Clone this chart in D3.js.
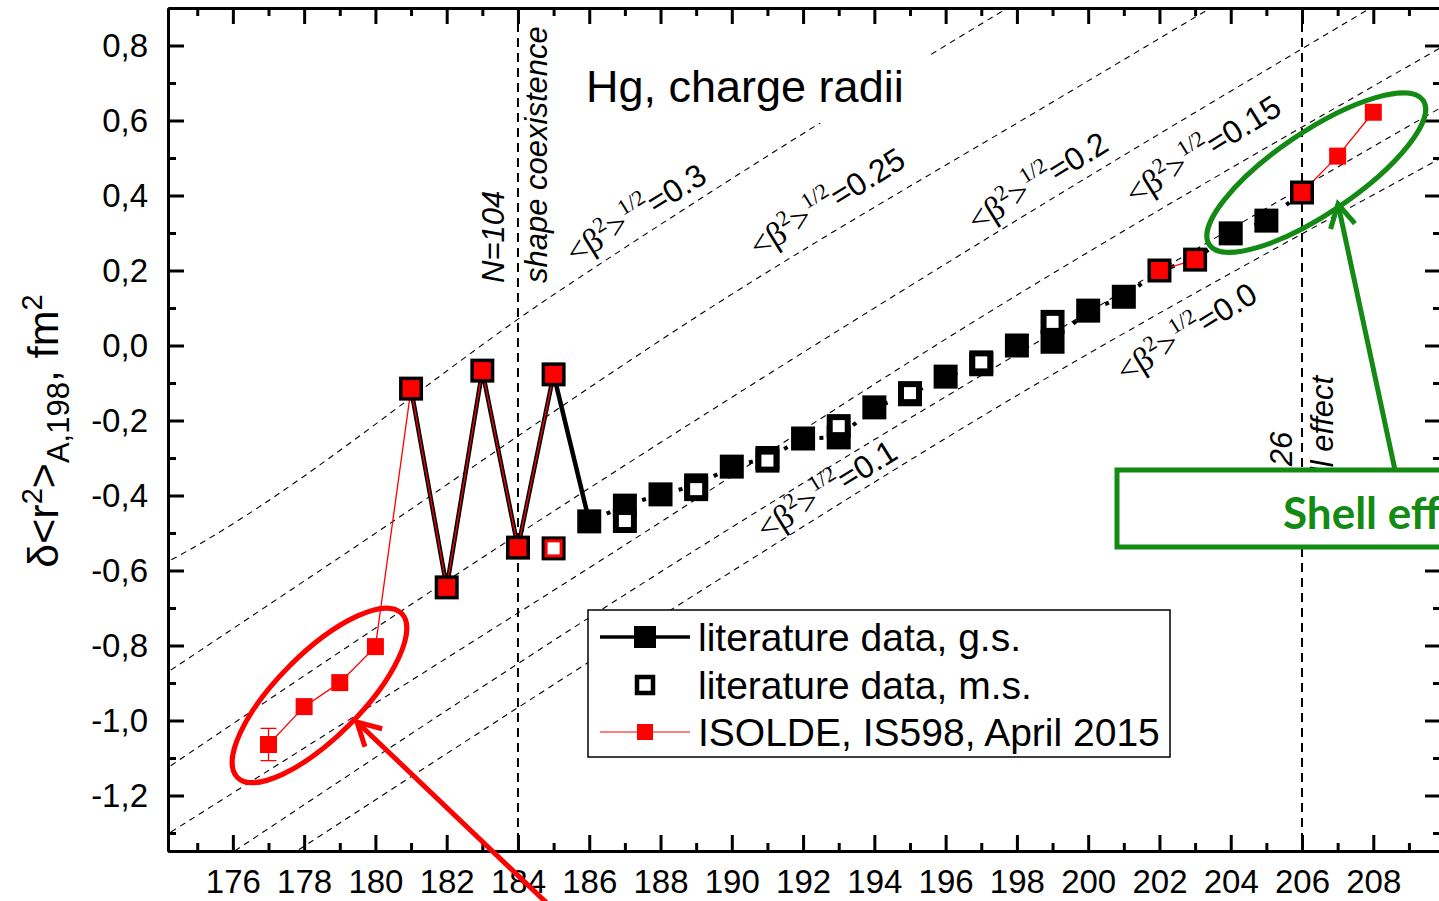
<!DOCTYPE html>
<html>
<head>
<meta charset="utf-8">
<script src="https://cdn.jsdelivr.net/npm/d3@7"></script>
<style>
    body { margin: 0; background: #fff; }
    svg { display: block; font-family: "Liberation Sans", Arial, sans-serif; }
</style>
</head>
<body>
<div id="chart"></div>
<script>
// literature data, ground states
const gsMass  = [181, 182, 183, 184, 185, 186, 187, 188, 189, 190, 191, 192, 193, 194, 195, 196, 197, 198, 199, 200, 201, 202, 203, 204, 205, 206];
const gsValue = [-0.115, -0.645, -0.067, -0.539, -0.077, -0.469, -0.427, -0.397, -0.373, -0.323, -0.300, -0.248, -0.245, -0.165,
                 -0.130, -0.083, -0.050, 0.0, 0.010, 0.093, 0.130, 0.200, 0.229, 0.299, 0.333, 0.408];

// literature data, isomers
const msMass  = [185, 187, 189, 191, 193, 195, 197, 199];
const msValue = [-0.541, -0.468, -0.383, -0.307, -0.215, -0.127, -0.045, 0.063];

// ISOLDE IS598
const isoMass  = [177, 178, 179, 180, 181, 182, 183, 184, 185, 202, 203, 206, 207, 208];
const isoValue = [-1.064, -0.963, -0.899, -0.803, -0.115, -0.645, -0.067, -0.539, -0.077, 0.200, 0.229, 0.408, 0.505, 0.622];
const isoError = [0.043, 0, 0, 0, 0, 0, 0, 0, 0, 0, 0, 0, 0, 0];
const isoGroup = [0, 0, 0, 0, 0, 0, 0, 0, 0, 1, 1, 2, 2, 2];
const isoMsMass  = [185];
const isoMsValue = [-0.541];

// droplet model lines
const betaNames = ["0.3", "0.25", "0.2", "0.15", "0.1", "0.0"];
const betaLines = [
    [[174.0, -0.585], [174.24, -0.573], [185.18, 0.147], [197.53, 0.888], [197.81, 0.904]],
    [[174.0, -0.882], [178.87, -0.573], [190.04, 0.139], [199.21, 0.661], [203.56, 0.907]],
    [[174.0, -1.137], [182.88, -0.573], [197.53, 0.307], [208.05, 0.907]],
    [[174.0, -1.313], [185.88, -0.600], [197.53, 0.107], [210.0, 0.800]],
    [[175.8, -1.364], [187.62, -0.627], [210.0, 0.640]],
    [[177.6, -1.360], [189.59, -0.627], [197.53, -0.160], [210.0, 0.505]]
];
// where the labels sit (mass number, value at start of text)
const betaLabelAt = [[185.6, 0.215], [190.75, 0.232], [196.87, 0.300], [201.3, 0.372], [190.95, -0.522], [201.05, -0.102]];

const xTicks = [176, 178, 180, 182, 184, 186, 188, 190, 192, 194, 196, 198, 200, 202, 204, 206, 208];
const xMinor = [175, 177, 179, 181, 183, 185, 187, 189, 191, 193, 195, 197, 199, 201, 203, 205, 207, 209];
const yTicks = [-1.2, -1.0, -0.8, -0.6, -0.4, -0.2, 0.0, 0.2, 0.4, 0.6, 0.8];
const yMinor = [-1.3, -1.1, -0.9, -0.7, -0.5, -0.3, -0.1, 0.1, 0.3, 0.5, 0.7];

const margin = {top: 8, left: 168},
    width = 1273,
    height = 843;

const svg = d3.select("#chart")
    .append("svg")
    .attr("width", 1439)
    .attr("height", 901);

const g = svg.append("g")
    .attr("transform", "translate(" + margin.left + "," + margin.top + ")");

const x = d3.scaleLinear().domain([174.18, 209.9]).range([0, width]);
const y = d3.scaleLinear().domain([-1.348, 0.9]).range([height, 0]);

g.append("clipPath").attr("id", "plot")
    .append("rect").attr("width", width).attr("height", height);

const plot = g.append("g").attr("clip-path", "url(#plot)");

// dashed beta lines
const betaLine = d3.line().x(d => x(d[0])).y(d => y(d[1])).curve(d3.curveMonotoneX);
plot.selectAll(".beta")
    .data(betaLines)
    .join("path")
    .attr("d", betaLine)
    .attr("fill", "none")
    .attr("stroke", "#000")
    .attr("stroke-width", 1.1)
    .attr("stroke-dasharray", "6 5");

// vertical N=104, N=126 lines
plot.selectAll(".vline")
    .data([184, 206])
    .join("line")
    .attr("x1", d => x(d)).attr("x2", d => x(d))
    .attr("y1", 0).attr("y2", height)
    .attr("stroke", "#000")
    .attr("stroke-width", 2)
    .attr("stroke-dasharray", "9 6");

// white box behind the title (cuts the dashed line like in the original)
plot.append("rect")
    .attr("x", 575 - margin.left).attr("y", 50 - margin.top)
    .attr("width", 355).attr("height", 73)
    .attr("fill", "#fff");

plot.append("text")
    .attr("x", 586 - margin.left).attr("y", 102 - margin.top)
    .attr("font-size", 45)
    .text("Hg, charge radii");

// rotated text along the vertical lines
function vtext(px, py, str) {
    g.append("text")
        .attr("transform", "translate(" + px + "," + py + ") rotate(-90)")
        .attr("font-size", 31)
        .attr("font-style", "italic")
        .text(str);
}
vtext(x(184) - 14, 283 - margin.top, "N=104");
vtext(x(184) + 29, 283 - margin.top, "shape coexistence");
vtext(x(206) - 10, 524 - margin.top, "N=126");
vtext(x(206) + 31, 524 - margin.top, "shell effect");

// beta labels
betaNames.forEach((name, i) => {
    const t = g.append("text")
        .attr("transform", "translate(" + x(betaLabelAt[i][0]) + "," + y(betaLabelAt[i][1]) + ") rotate(-32)")
        .attr("font-size", 34);
    t.append("tspan").attr("font-family", "Liberation Serif").text("<β");
    t.append("tspan").attr("font-family", "Liberation Serif").attr("font-size", 22).attr("dy", -14).text("2");
    t.append("tspan").attr("font-family", "Liberation Serif").attr("dy", 14).text(">");
    t.append("tspan").attr("font-family", "Liberation Serif").attr("font-size", 22).attr("dy", -16).text("1/2");
    t.append("tspan").attr("dy", 16).attr("font-size", 32).text("=" + name);
});

// lines between points
const gs = gsMass.map((m, i) => [m, gsValue[i]]);
const ms = msMass.map((m, i) => [m, msValue[i]]);
const iso = isoMass.map((m, i) => ({m: m, v: isoValue[i], e: isoError[i], grp: isoGroup[i]}));
const isoMs = isoMsMass.map((m, i) => [m, isoMsValue[i]]);

const line = d3.line().x(d => x(d[0])).y(d => y(d[1]));

// solid through the odd-even staggering, short dashes afterwards (mostly under the squares)
g.append("path")
    .attr("d", line(gs.filter(d => d[0] <= 186)))
    .attr("fill", "none")
    .attr("stroke", "#000")
    .attr("stroke-width", 4.5);
g.append("path")
    .attr("d", line(gs.filter(d => d[0] >= 186)))
    .attr("fill", "none")
    .attr("stroke", "#000")
    .attr("stroke-width", 4)
    .attr("stroke-dasharray", "4 15");

d3.groups(iso, d => d.grp).forEach(([k, pts]) => {
    g.append("path")
        .attr("d", line(pts.map(d => [d.m, d.v])))
        .attr("fill", "none")
        .attr("stroke", "red")
        .attr("stroke-width", 1.3);
});

// error bars
const eb = g.selectAll(".eb").data(iso.filter(d => d.e > 0)).join("g");
eb.append("line")
    .attr("x1", d => x(d.m)).attr("x2", d => x(d.m))
    .attr("y1", d => y(d.v - d.e)).attr("y2", d => y(d.v + d.e))
    .attr("stroke", "red").attr("stroke-width", 1.3);
eb.selectAll(".cap").data(d => [d.v - d.e, d.v + d.e].map(v => [d.m, v])).join("line")
    .attr("x1", d => x(d[0]) - 8).attr("x2", d => x(d[0]) + 8)
    .attr("y1", d => y(d[1])).attr("y2", d => y(d[1]))
    .attr("stroke", "red").attr("stroke-width", 1.3);

// markers
g.selectAll(".gs").data(gs).join("rect")
    .attr("x", d => x(d[0]) - 12).attr("y", d => y(d[1]) - 12)
    .attr("width", 24).attr("height", 24)
    .attr("fill", "#000");

g.selectAll(".ms").data(ms).join("rect")
    .attr("x", d => x(d[0]) - 9).attr("y", d => y(d[1]) - 9)
    .attr("width", 18).attr("height", 18)
    .attr("fill", "#fff").attr("stroke", "#000").attr("stroke-width", 6);

g.selectAll(".iso").data(iso).join("rect")
    .attr("x", d => x(d.m) - 8.5).attr("y", d => y(d.v) - 8.5)
    .attr("width", 17).attr("height", 17)
    .attr("fill", "red");

g.selectAll(".isoms").data(isoMs).join("rect")
    .attr("x", d => x(d[0]) - 7.5).attr("y", d => y(d[1]) - 7.5)
    .attr("width", 15).attr("height", 15)
    .attr("fill", "#fff").attr("stroke", "red").attr("stroke-width", 3);

// axes, ticks pointing inward
function styleAxis(sel, w) {
    sel.select(".domain").attr("stroke-width", 3);
    sel.selectAll(".tick line").attr("stroke-width", w);
    sel.selectAll("text").attr("font-size", 33).attr("font-family", "Liberation Sans, Arial, sans-serif").attr("fill", "#000");
}
const fmtY = d => d.toFixed(1).replace(".", ",");

g.append("g").attr("transform", "translate(0," + height + ")")
    .call(d3.axisBottom(x).tickValues(xTicks).tickSizeInner(-16).tickSizeOuter(0).tickPadding(19).tickFormat(d3.format("d")))
    .call(s => styleAxis(s, 3));
g.append("g").attr("transform", "translate(0," + height + ")")
    .call(d3.axisBottom(x).tickValues(xMinor).tickSizeInner(-8).tickSizeOuter(0).tickFormat(""))
    .call(s => styleAxis(s, 3));
g.append("g")
    .call(d3.axisTop(x).tickValues(xTicks).tickSizeInner(-16).tickSizeOuter(0).tickFormat(""))
    .call(s => styleAxis(s, 3));
g.append("g")
    .call(d3.axisTop(x).tickValues(xMinor).tickSizeInner(-8).tickSizeOuter(0).tickFormat(""))
    .call(s => styleAxis(s, 3));

g.append("g")
    .call(d3.axisLeft(y).tickValues(yTicks).tickSizeInner(-16).tickSizeOuter(0).tickPadding(20).tickFormat(fmtY))
    .call(s => styleAxis(s, 3));
g.append("g")
    .call(d3.axisLeft(y).tickValues(yMinor).tickSizeInner(-8).tickSizeOuter(0).tickFormat(""))
    .call(s => styleAxis(s, 3));
g.append("g").attr("transform", "translate(" + width + ",0)")
    .call(d3.axisRight(y).tickValues(yTicks).tickSizeInner(-16).tickSizeOuter(0).tickFormat(""))
    .call(s => styleAxis(s, 3));
g.append("g").attr("transform", "translate(" + width + ",0)")
    .call(d3.axisRight(y).tickValues(yMinor).tickSizeInner(-8).tickSizeOuter(0).tickFormat(""))
    .call(s => styleAxis(s, 3));

// y axis label
const yl = svg.append("text")
    .attr("transform", "translate(58,431) rotate(-90)")
    .attr("text-anchor", "middle")
    .attr("font-size", 43);
yl.append("tspan").text("δ<r");
yl.append("tspan").attr("font-size", 29).attr("dy", -16).text("2");
yl.append("tspan").attr("dy", 16).text(">");
yl.append("tspan").attr("font-size", 31).attr("dy", 11).text("A,198");
yl.append("tspan").attr("dy", -11).text(", fm");
yl.append("tspan").attr("font-size", 29).attr("dy", -16).text("2");

// legend
const lg = svg.append("g");
lg.append("rect")
    .attr("x", 588).attr("y", 610).attr("width", 582).attr("height", 147)
    .attr("fill", "#fff").attr("stroke", "#000").attr("stroke-width", 1.5);
lg.append("line").attr("x1", 600).attr("x2", 690).attr("y1", 637).attr("y2", 637)
    .attr("stroke", "#000").attr("stroke-width", 3.5);
lg.append("rect").attr("x", 634).attr("y", 626).attr("width", 22).attr("height", 22).attr("fill", "#000");
lg.append("rect").attr("x", 637).attr("y", 677).attr("width", 16).attr("height", 16)
    .attr("fill", "#fff").attr("stroke", "#000").attr("stroke-width", 4.5);
lg.append("line").attr("x1", 600).attr("x2", 690).attr("y1", 732).attr("y2", 732)
    .attr("stroke", "red").attr("stroke-width", 1.2);
lg.append("rect").attr("x", 637).attr("y", 724).attr("width", 16).attr("height", 16).attr("fill", "red");
lg.selectAll(".lt")
    .data(["literature data, g.s.", "literature data, m.s.", "ISOLDE, IS598, April 2015"])
    .join("text")
    .attr("x", 698).attr("y", (d, i) => 651 + i * 47.5)
    .attr("font-size", 39)
    .text(d => d);

// annotations
const red = "#ff0000", green = "#138a13";
function arrow(x1, y1, x2, y2, col) {
    const a = Math.atan2(y2 - y1, x2 - x1), L = 26, sp = 0.5;
    svg.append("line").attr("x1", x1).attr("y1", y1).attr("x2", x2).attr("y2", y2)
        .attr("stroke", col).attr("stroke-width", 5);
    svg.append("path")
        .attr("d", "M" + (x2 - L * Math.cos(a - sp)) + "," + (y2 - L * Math.sin(a - sp)) +
            "L" + x2 + "," + y2 +
            "L" + (x2 - L * Math.cos(a + sp)) + "," + (y2 - L * Math.sin(a + sp)))
        .attr("fill", "none").attr("stroke", col).attr("stroke-width", 5);
}

svg.append("ellipse")
    .attr("transform", "translate(" + (margin.left + x(178.43)) + "," + (margin.top + y(-0.933)) + ") rotate(-45)")
    .attr("rx", 116).attr("ry", 42)
    .attr("fill", "none").attr("stroke", red).attr("stroke-width", 5);
arrow(552, 908, 357, 722, red);

svg.append("ellipse")
    .attr("transform", "translate(" + (margin.left + x(206.4)) + "," + (margin.top + y(0.461)) + ") rotate(-34)")
    .attr("rx", 129).attr("ry", 41)
    .attr("fill", "none").attr("stroke", green).attr("stroke-width", 5);

svg.append("rect")
    .attr("x", 1117).attr("y", 470).attr("width", 360).attr("height", 77)
    .attr("fill", "#fff").attr("stroke", green).attr("stroke-width", 5);
svg.append("text")
    .attr("x", 1283).attr("y", 529)
    .attr("font-family", "Lato, 'Open Sans', sans-serif")
    .attr("font-weight", "bold")
    .attr("font-size", 44)
    .attr("fill", green)
    .text("Shell effect");
arrow(1395, 470, 1338, 204, green);
</script>
</body>
</html>
